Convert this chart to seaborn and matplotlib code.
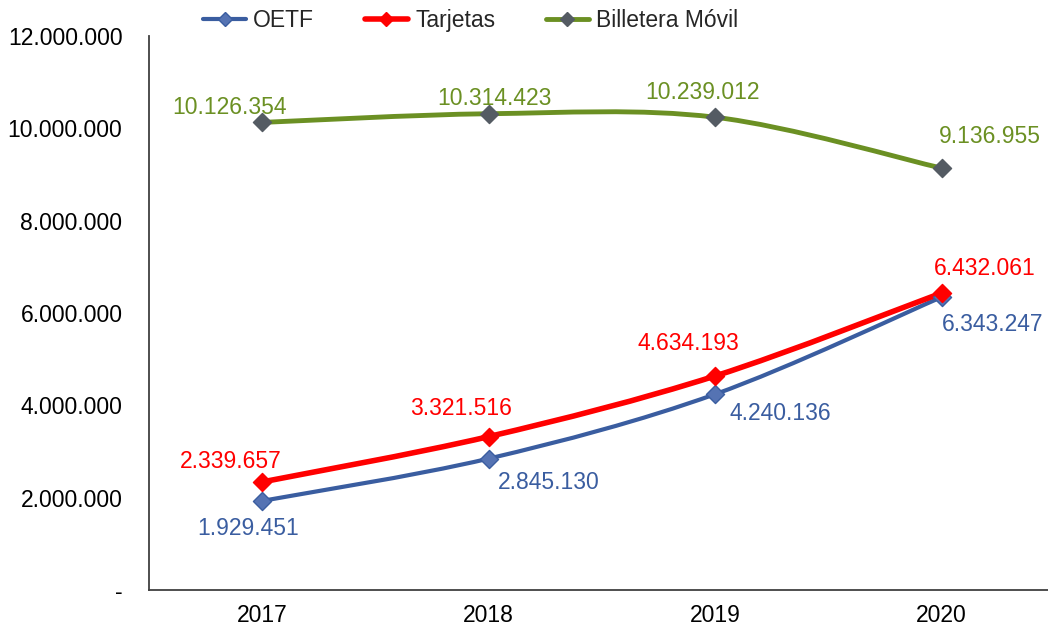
import numpy as np
import pandas as pd
import matplotlib
matplotlib.use("Agg")
import matplotlib.pyplot as plt
import seaborn as sns
from matplotlib.path import Path
from matplotlib.patches import PathPatch
from matplotlib.lines import Line2D
from matplotlib.ticker import FuncFormatter

# Datos
years = [2017, 2018, 2019, 2020]
oetf = [1929451, 2845130, 4240136, 6343247]
tarjetas = [2339657, 3321516, 4634193, 6432061]
billetera = [10126354, 10314423, 10239012, 9136955]
series_names = ["OETF", "Tarjetas", "Billetera Móvil"]

sns.set_style("white")
plt.rcParams["font.family"] = ["Liberation Sans", "DejaVu Sans"]

# estilo de cada serie: color de línea, relleno marcador, borde marcador, ancho
styles = {
    "OETF": dict(line="#3A5DA0", face="#5573B3", edge="#3A5DA0", lw=3.0),
    "Tarjetas": dict(line="#FF0000", face="#FF0000", edge="#FF0000", lw=4.0),
    "Billetera Móvil": dict(line="#6B9023", face="#545B63", edge="#545B63", lw=3.5),
}
label_colors = {"OETF": "#3A5DA0", "Tarjetas": "#FF0000", "Billetera Móvil": "#6B9023"}

# desplazamiento de etiquetas (pixeles)
label_offsets = {
    "OETF": [(-14, -28), (60, -24), (65, -19), (51, -27)],
    "Tarjetas": [(-31, 20), (-28, 28), (-27, 33), (43, 25)],
    "Billetera Móvil": [(-33, 15), (6, 15), (-13, 25), (48, 32)],
}

df = pd.DataFrame({"Año": years * 3,
                   "Valor": oetf + tarjetas + billetera,
                   "Serie": [s for s in series_names for _ in years]})


def smooth_path(x, y):
    # curva suavizada tipo Excel (Bezier cubica)
    pts = np.column_stack([x, y]).astype(float)
    n = len(pts)
    verts = [pts[0]]
    codes = [Path.MOVETO]
    for i in range(n - 1):
        p_prev = pts[i - 1] if i > 0 else pts[i]
        p_next2 = pts[i + 2] if i + 2 < n else pts[i + 1]
        c1 = pts[i] + (pts[i + 1] - p_prev) / 6
        c2 = pts[i + 1] - (p_next2 - pts[i]) / 6
        verts += [c1, c2, pts[i + 1]]
        codes += [Path.CURVE4] * 3
    return Path(verts, codes)


fig = plt.figure(figsize=(10.48, 6.3), dpi=100)
ax = fig.add_axes([0.142, 0.0635, 0.858, 0.8795])

for name in series_names:
    sub = df[df["Serie"] == name]
    st = styles[name]
    ax.add_patch(PathPatch(smooth_path(sub["Año"], sub["Valor"]), fill=False,
                           edgecolor=st["line"], lw=st["lw"], capstyle="round",
                           joinstyle="round", zorder=2))
    sns.scatterplot(data=sub, x="Año", y="Valor", marker="D", s=85,
                    color=st["face"], edgecolor=st["edge"], linewidth=1.0,
                    ax=ax, zorder=3, legend=False)
    for (xv, yv), off in zip(zip(sub["Año"], sub["Valor"]), label_offsets[name]):
        ax.annotate(f"{yv:,}".replace(",", "."), (xv, yv), xytext=off,
                    textcoords="offset pixels", ha="center", va="center",
                    fontsize=16.5, color=label_colors[name])

ax.set_xlim(2016.5, 2020.47)
ax.set_ylim(0, 12000000)
ax.set_xticks(years)
ax.set_yticks(np.arange(0, 12000001, 2000000))
ax.yaxis.set_major_formatter(FuncFormatter(
    lambda v, p: "-" if v == 0 else f"{int(v):,}".replace(",", ".")))
ax.tick_params(axis="both", length=0, labelsize=16.5, colors="black")
ax.tick_params(axis="y", pad=19)
ax.tick_params(axis="x", pad=10)
ax.set_xlabel("")
ax.set_ylabel("")
sns.despine(ax=ax, top=True, right=True)
for sp in ["left", "bottom"]:
    ax.spines[sp].set_color("#404040")
    ax.spines[sp].set_linewidth(1.3)

handles = [Line2D([0], [0], color=styles[n]["line"], lw=styles[n]["lw"], marker="D",
                  markersize=7, markerfacecolor=styles[n]["face"],
                  markeredgecolor=styles[n]["edge"]) for n in series_names]
fig.legend(handles, series_names, loc="center", bbox_to_anchor=(0.449, 0.968),
           ncol=3, frameon=False, fontsize=16.5, handlelength=1.9,
           handletextpad=0.3, columnspacing=2.2)

fig.savefig("out.png", dpi=100)
